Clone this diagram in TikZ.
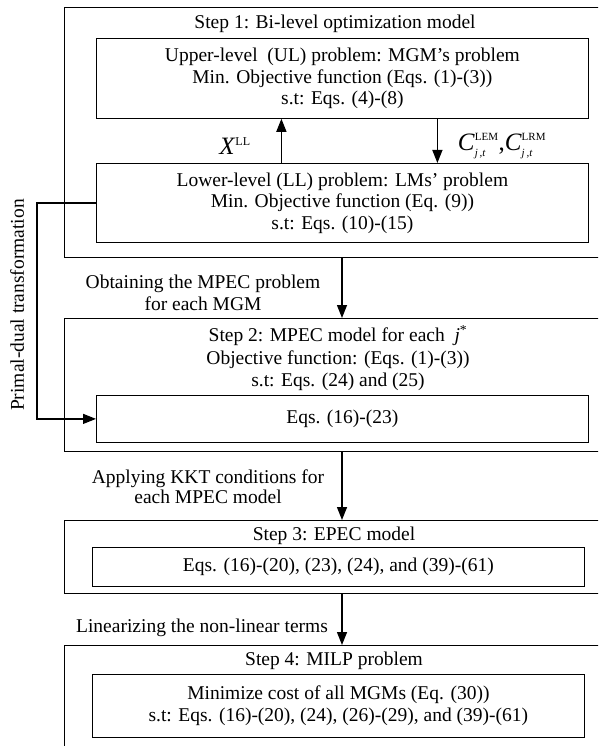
\documentclass[tikz,border=0pt]{standalone}
\usepackage{fontspec}
\setmainfont{Liberation Serif}
\usetikzlibrary{arrows.meta,positioning}
\begin{document}
\begin{tikzpicture}[x=1pt,y=-1pt,
  outer box/.style={draw, line width=0.8pt, anchor=north west, inner sep=0pt},
  inner box/.style={draw, line width=0.8pt, anchor=north west, inner sep=0pt, align=center},
  flow/.style={-{Triangle[length=13pt,width=10pt]}, line width=1.4pt}]
\tikzstyle{every node}=[font=\fontsize{19.5}{21.5}\selectfont]
\useasboundingbox (0,0) rectangle (598,746);
\clip (0,0) rectangle (598,746);
\coordinate (mid) at (342,0);
\coordinate (pd) at (37,0);

% step 1
\node[outer box, minimum width=600pt, minimum height=250pt] (s1) at (64,7) {};
\node (t1) at (335,24) {Step 1: Bi-level optimization model};
\node[inner box, minimum width=492pt, minimum height=80pt] (ul) at (96,38)
  {Upper-level~~(UL) problem: MGM’s problem\\ Min. Objective function (Eqs. (1)-(3))\\ s.t: Eqs. (4)-(8)};
\node[inner box, minimum width=492pt, minimum height=79pt] (ll) at (96,163)
  {Lower-level (LL) problem: LMs’ problem\\ Min. Objective function (Eq. (9))\\ s.t: Eqs. (10)-(15)};
\draw[flow] ([xshift=-61pt]ll.north) -- ([xshift=-61pt]ul.south);
\draw[flow] ([xshift=95pt]ul.south) -- ([xshift=95pt]ll.north);
\node (xll) at (235,146) {\fontsize{25}{25}\selectfont\textit{X}$^{\mbox{\fontsize{12}{12}\selectfont LL}}$};
\node (clab) at (502,146) {\fontsize{25}{25}\selectfont
  $\mbox{\textit{C}}^{\mbox{\fontsize{11}{11}\selectfont LEM}}_{\mbox{\fontsize{11}{11}\selectfont\itshape j\,,t}}$,%
  $\mbox{\textit{C}}^{\mbox{\fontsize{11}{11}\selectfont LRM}}_{\mbox{\fontsize{11}{11}\selectfont\itshape j\,,t}}$};

% step 2
\node[outer box, minimum width=600pt, minimum height=133pt] (s2) at (64,318) {};
\node[align=center, font=\fontsize{19.5}{22.5}\selectfont] (t2) at (338,358)
  {Step 2: MPEC model for each~~\textit{j}\textsuperscript{*}\\ Objective function: (Eqs. (1)-(3))\\ s.t: Eqs. (24) and (25)};
\node[inner box, minimum width=492pt, minimum height=47pt] (eq1) at (96,395) {Eqs. (16)-(23)};
\draw[flow] (s1.south -| mid) -- (s2.north -| mid);
\node[align=center] (ob) at (203,293) {Obtaining the MPEC problem\\ for each MGM};

% primal-dual link
\draw[flow] (ll.west) -- (ll.west -| pd) |- (eq1.west);
\node[rotate=90] (pdt) at (17,305) {Primal-dual transformation};

% step 3
\node[outer box, minimum width=600pt, minimum height=73pt] (s3) at (64,520) {};
\node (t3) at (334,536) {Step 3: EPEC model};
\node[inner box, minimum width=492pt, minimum height=39pt] (eq3) at (92,547) {Eqs. (16)-(20), (23), (24), and (39)-(61)};
\draw[flow] (s2.south -| mid) -- (s3.north -| mid);
\node[align=center, font=\fontsize{19.5}{20}\selectfont] (kkt) at (208,487) {Applying KKT conditions for\\ each MPEC model};

% step 4
\node[outer box, minimum width=600pt, minimum height=130pt] (s4) at (64,645) {};
\node (t4) at (334,661) {Step 4: MILP problem};
\node[inner box, minimum width=492pt, minimum height=63pt] (eq4) at (92,674)
  {Minimize cost of all MGMs (Eq. (30))\\ s.t: Eqs. (16)-(20), (24), (26)-(29), and (39)-(61)};
\draw[flow] (s3.south -| mid) -- (s4.north -| mid);
\node (lin) at (202,628) {Linearizing the non-linear terms};
\end{tikzpicture}
\end{document}
